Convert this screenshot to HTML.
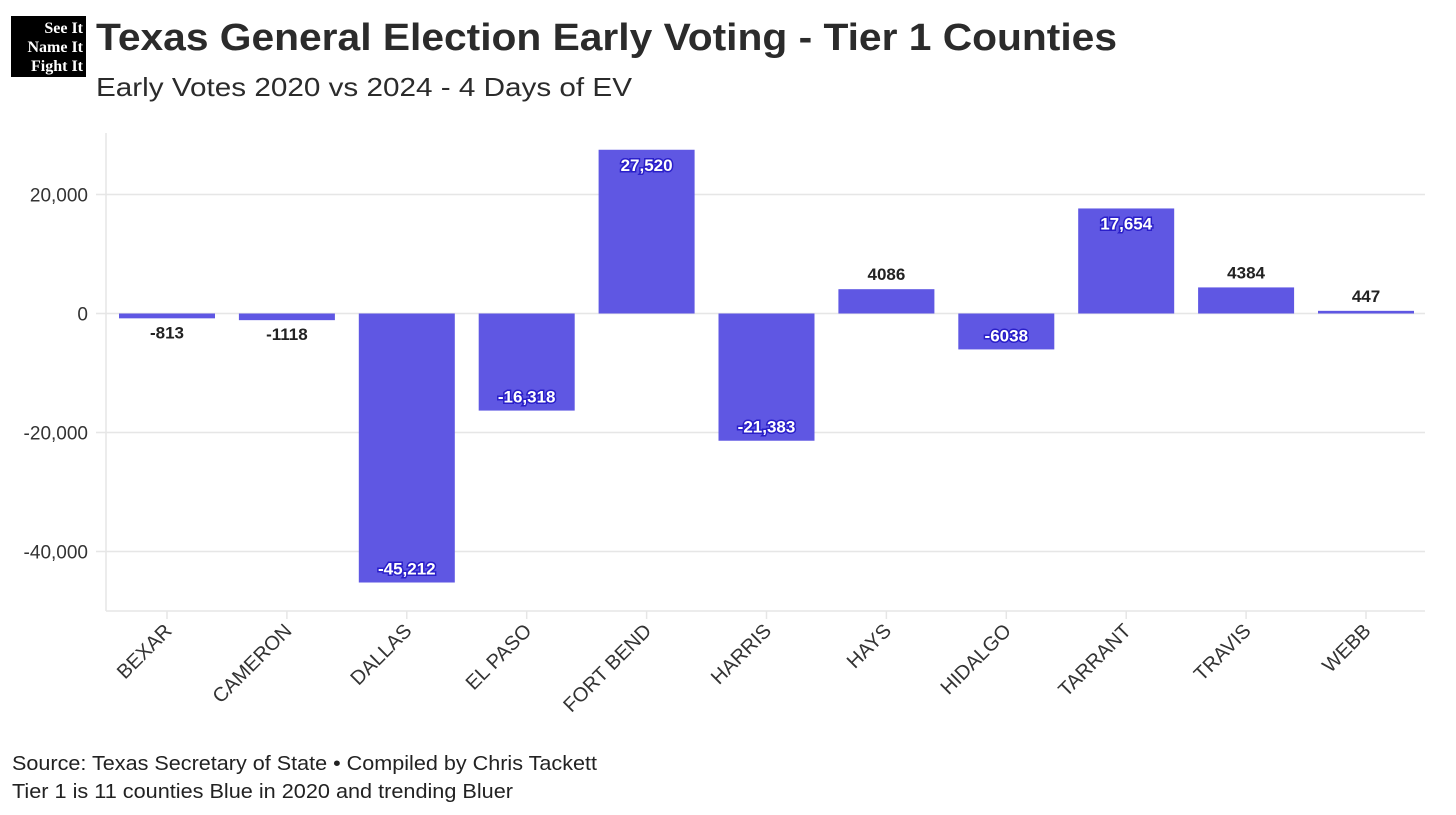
<!DOCTYPE html>
<html><head><meta charset="utf-8">
<style>
body{margin:0;background:#fff;width:1456px;height:815px;overflow:hidden;font-family:"Liberation Sans",sans-serif;}
svg{display:block}
</style></head>
<body>
<svg id="chart" width="1456" height="815">
  <g>
    <rect x="11" y="16" width="75" height="61" fill="#000"/>
    <text x="83" y="33" fill="#fff" font-family="Liberation Serif" font-weight="bold" font-size="16" text-anchor="end">See It</text>
    <text x="83" y="52" fill="#fff" font-family="Liberation Serif" font-weight="bold" font-size="16" text-anchor="end">Name It</text>
    <text x="83" y="71" fill="#fff" font-family="Liberation Serif" font-weight="bold" font-size="16" text-anchor="end">Fight It</text>
  </g>
  <text x="96" y="50" font-size="38" font-weight="bold" fill="#2b2b2b" textLength="1021" lengthAdjust="spacingAndGlyphs">Texas General Election Early Voting - Tier 1 Counties</text>
  <text x="96" y="96" font-size="26" fill="#2b2b2b" textLength="536" lengthAdjust="spacingAndGlyphs">Early Votes 2020 vs 2024 - 4 Days of EV</text>
  <g id="grid"></g>
  <g id="bars"></g>
  <g id="labels"></g>
  <text x="12" y="770" font-size="20" fill="#222" textLength="585" lengthAdjust="spacingAndGlyphs">Source: Texas Secretary of State • Compiled by Chris Tackett</text>
  <text x="12" y="798" font-size="20" fill="#222" textLength="501" lengthAdjust="spacingAndGlyphs">Tier 1 is 11 counties Blue in 2020 and trending Bluer</text>
</svg>
<script>
const categories=["BEXAR","CAMERON","DALLAS","EL PASO","FORT BEND","HARRIS","HAYS","HIDALGO","TARRANT","TRAVIS","WEBB"];
const values=[-813,-1118,-45212,-16318,27520,-21383,4086,-6038,17654,4384,447];
const valueLabels=["-813","-1118","-45,212","-16,318","27,520","-21,383","4086","-6038","17,654","4384","447"];
const yTicks=[20000,0,-20000,-40000];
const yTickLabels=["20,000","0","-20,000","-40,000"];

const NS="http://www.w3.org/2000/svg";
const y0=313.5, pxPer=119/20000;
const y=v=>y0-v*pxPer;
const x=i=>167+i*119.9;
const bw=96;
function mk(tag,attrs,parent){const e=document.createElementNS(NS,tag);for(const k in attrs)e.setAttribute(k,attrs[k]);parent.appendChild(e);return e;}
const grid=document.getElementById('grid'),bars=document.getElementById('bars'),labels=document.getElementById('labels');
yTicks.forEach((t,i)=>{
  const l=mk('line',{x1:96,x2:1425,y1:y(t),y2:y(t),stroke:'#e6e6e6','stroke-width':1.5},grid);
  
  
  const tx=mk('text',{x:88,y:y(t)+7,'text-anchor':'end','font-size':19,fill:'#333'},grid);
  tx.textContent=yTickLabels[i];
  
  
});
const ax=mk('line',{x1:106,x2:106,y1:133,y2:611,stroke:'#e6e6e6','stroke-width':1.5},grid);


const bx=mk('line',{x1:106,x2:1425,y1:611,y2:611,stroke:'#e6e6e6','stroke-width':1.5},grid);


categories.forEach((c,i)=>{
  const cx=x(i),v=values[i];
  const tk=mk('line',{x1:cx,x2:cx,y1:611,y2:619,stroke:'#e6e6e6','stroke-width':1.5},grid);
  
  
  const top=Math.min(y(v),y0),h=Math.max(Math.abs(y(v)-y0),2);
  const r=mk('rect',{x:cx-bw/2,y:top,width:bw,height:h,fill:'#5f57e3'},bars);
  
  
  const inside=Math.abs(y(v)-y0)>30;
  let ly;
  if(inside) ly = v>0 ? y(v)+21 : y(v)-8;
  else ly = v>0 ? y(v)-9 : y(v)+20;
  const t=mk('text',{x:cx,y:ly,'text-anchor':'middle','font-size':17,'font-weight':'bold'},labels);
  if(inside){t.setAttribute('fill','#fff');t.setAttribute('stroke','#2a1fc9');t.setAttribute('stroke-width','3');t.setAttribute('paint-order','stroke');}
  else t.setAttribute('fill','#222');
  t.textContent=valueLabels[i];
  
  
  const xl=mk('text',{x:0,y:0,'text-anchor':'end','font-size':20,fill:'#333',transform:`translate(${cx+6},${632}) rotate(-45)`},labels);
  xl.textContent=c;
  
  
});
</script>
</body></html>
